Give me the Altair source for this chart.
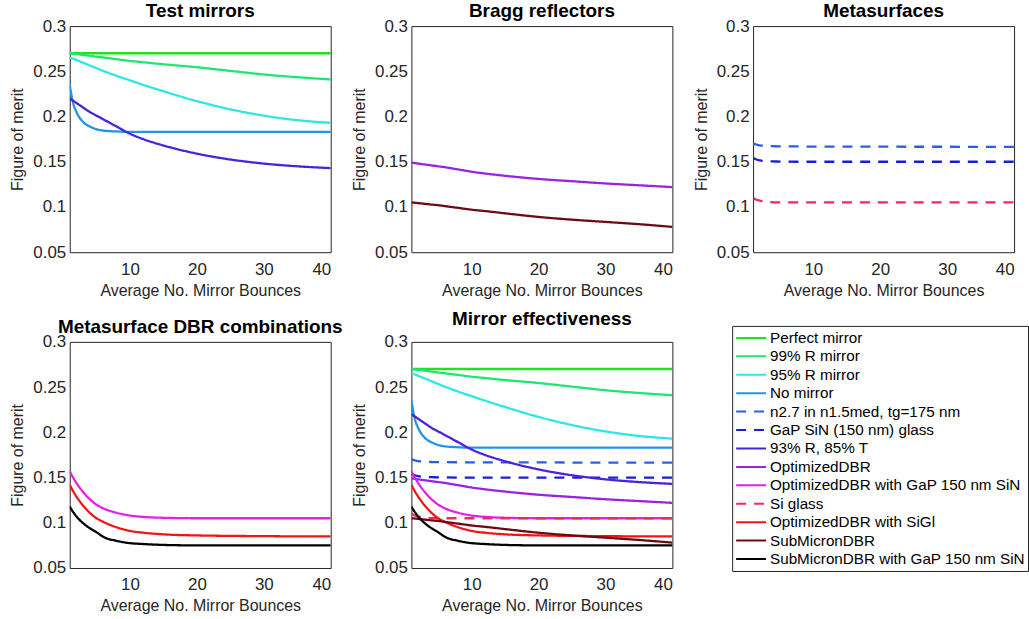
import altair as alt
import pandas as pd

FONT = "Liberation Sans"

# ---- data ----
x_vals = [1, 1.5, 2, 3, 4, 5, 6, 8, 10, 12, 15, 20, 25, 30, 35, 40]

perfect_mirror = [0.2700, 0.2700, 0.2700, 0.2700, 0.2700, 0.2700, 0.2700, 0.2700, 0.2700, 0.2700, 0.2700, 0.2700, 0.2700, 0.2700, 0.2700, 0.2700]
r99_mirror = [0.2700, 0.2695, 0.2691, 0.2681, 0.2672, 0.2662, 0.2653, 0.2634, 0.2615, 0.2600, 0.2578, 0.2545, 0.2505, 0.2465, 0.2435, 0.2410]
r95_mirror = [0.2650, 0.2640, 0.2625, 0.2595, 0.2565, 0.2535, 0.2505, 0.2450, 0.2400, 0.2350, 0.2280, 0.2170, 0.2080, 0.2010, 0.1960, 0.1930]
no_mirror = [0.2350, 0.2150, 0.2050, 0.1940, 0.1890, 0.1860, 0.1845, 0.1835, 0.1830, 0.1830, 0.1830, 0.1830, 0.1830, 0.1830, 0.1830, 0.1830]
n27_metasurface = [0.1700, 0.1690, 0.1682, 0.1675, 0.1672, 0.1670, 0.1670, 0.1669, 0.1668, 0.1668, 0.1667, 0.1667, 0.1666, 0.1666, 0.1665, 0.1665]
gap_sin_glass = [0.1540, 0.1525, 0.1515, 0.1507, 0.1504, 0.1502, 0.1501, 0.1500, 0.1500, 0.1500, 0.1500, 0.1500, 0.1500, 0.1500, 0.1500, 0.1500]
r93_t85 = [0.2200, 0.2175, 0.2150, 0.2100, 0.2050, 0.2010, 0.1970, 0.1890, 0.1810, 0.1750, 0.1680, 0.1590, 0.1525, 0.1480, 0.1450, 0.1430]
optimized_dbr = [0.1490, 0.1485, 0.1480, 0.1470, 0.1460, 0.1450, 0.1440, 0.1415, 0.1390, 0.1370, 0.1345, 0.1310, 0.1285, 0.1260, 0.1240, 0.1220]
optimized_dbr_gap = [0.1570, 0.1500, 0.1440, 0.1340, 0.1260, 0.1200, 0.1160, 0.1110, 0.1080, 0.1065, 0.1055, 0.1050, 0.1050, 0.1050, 0.1050, 0.1050]
si_glass = [0.1100, 0.1080, 0.1070, 0.1055, 0.1052, 0.1050, 0.1050, 0.1050, 0.1050, 0.1050, 0.1050, 0.1050, 0.1050, 0.1050, 0.1050, 0.1050]
optimized_dbr_sigl = [0.1420, 0.1350, 0.1290, 0.1190, 0.1110, 0.1050, 0.1010, 0.0950, 0.0910, 0.0890, 0.0872, 0.0860, 0.0855, 0.0852, 0.0850, 0.0850]
submicron_dbr = [0.1050, 0.1047, 0.1043, 0.1035, 0.1027, 0.1020, 0.1010, 0.0990, 0.0970, 0.0955, 0.0930, 0.0890, 0.0860, 0.0835, 0.0810, 0.0780]
submicron_dbr_gap = [0.1180, 0.1120, 0.1070, 0.0995, 0.0940, 0.0895, 0.0845, 0.0800, 0.0775, 0.0765, 0.0755, 0.0750, 0.0750, 0.0750, 0.0750, 0.0750]

series_names = [
    "Perfect mirror",
    "99% R mirror",
    "95% R mirror",
    "No mirror",
    "n2.7 in n1.5med, tg=175 nm",
    "GaP SiN (150 nm) glass",
    "93% R, 85% T",
    "OptimizedDBR",
    "OptimizedDBR with GaP 150 nm SiN",
    "Si glass",
    "OptimizedDBR with SiGl",
    "SubMicronDBR",
    "SubMicronDBR with GaP 150 nm SiN",
]
series_values = [
    perfect_mirror, r99_mirror, r95_mirror, no_mirror, n27_metasurface,
    gap_sin_glass, r93_t85, optimized_dbr, optimized_dbr_gap, si_glass,
    optimized_dbr_sigl, submicron_dbr, submicron_dbr_gap,
]
series_colors = [
    "#22e022", "#1ee672", "#2ee6e6", "#2196e6", "#2a5ee8",
    "#1c1cd6", "#4a22d8", "#9a22e0", "#e61ee6", "#f02a5a",
    "#f01616", "#6e0a14", "#000000",
]
series_dashed = [False, False, False, False, True, True, False, False, False, True, False, False, False]

panel_titles = [
    "Test mirrors",
    "Bragg reflectors",
    "Metasurfaces",
    "Metasurface DBR combinations",
    "Mirror effectiveness",
]
panel_members = [
    [0, 1, 2, 3, 6],
    [7, 11],
    [4, 5, 9],
    [8, 10, 12],
    list(range(13)),
]

x_ticks = [10, 20, 30, 40]
y_ticks = [0.05, 0.1, 0.15, 0.2, 0.25, 0.3]

# ---- table ----
rows = []
for order, (name, vals) in enumerate(zip(series_names, series_values)):
    for xv, yv in zip(x_vals, vals):
        rows.append({"series": name, "order": order, "x": xv, "y": yv})
df = pd.DataFrame(rows)

dash_range = [[10, 8] if d else [1, 0] for d in series_dashed]

W, H = 262, 227

legend_spec = dict(
    title=None, orient="none", legendX=322, legendY=-16,
    symbolType="stroke", symbolSize=900, symbolStrokeWidth=2,
    labelFont=FONT, labelFontSize=15.3, labelColor="black", labelLimit=400,
    labelOffset=3, clipHeight=18, rowPadding=0.5, padding=3,
    strokeColor="#262626", fillColor="white",
)


def panel(idx):
    members = [series_names[i] for i in panel_members[idx]]
    show_legend = idx == 4
    color_legend = alt.Legend(**legend_spec) if show_legend else None
    dash_legend = alt.Legend(**legend_spec) if show_legend else None
    return (
        alt.Chart(df, title=alt.TitleParams(panel_titles[idx], frame="group"))
        .transform_filter(alt.FieldOneOfPredicate(field="series", oneOf=members))
        .mark_line(strokeWidth=2.3, interpolate="monotone", clip=True)
        .encode(
            x=alt.X("x:Q", scale=alt.Scale(domain=[1, 40], nice=False, zero=False),
                    axis=alt.Axis(values=x_ticks, title="Average No. Mirror Bounces")),
            y=alt.Y("y:Q", scale=alt.Scale(domain=[0.05, 0.3], nice=False, zero=False),
                    axis=alt.Axis(values=y_ticks, format=".2~f", title="Figure of merit")),
            color=alt.Color("series:N", scale=alt.Scale(domain=series_names, range=series_colors),
                            legend=color_legend),
            strokeDash=alt.StrokeDash("series:N", scale=alt.Scale(domain=series_names, range=dash_range),
                                      legend=dash_legend),
            order=alt.Order("order:Q"),
        )
        .properties(width=W, height=H)
    )


charts = [panel(i) for i in range(5)]

chart = (
    alt.concat(*charts, columns=3, spacing=alt.RowColnumber(row=90, column=81), bounds="flush")
    .resolve_scale(color="independent", strokeDash="independent")
    .properties(padding={"left": 9, "top": 0, "right": 0, "bottom": 0}, background="white")
    .configure_view(stroke="#262626", strokeWidth=1)
    .configure_axis(
        grid=False, ticks=False, domain=False,
        labelFont=FONT, labelFontSize=17, labelColor="#262626", labelPadding=4,
        titleFont=FONT, titleFontSize=16, titleFontWeight="normal", titleColor="#262626",
        titlePadding=7,
    )
    .configure_axisX(labelPadding=9, titlePadding=5)
    .configure_title(font=FONT, fontSize=19, fontWeight="bold", color="black", offset=-4)
)

chart.save("out.html", embed_options={"renderer": "svg", "actions": False})
